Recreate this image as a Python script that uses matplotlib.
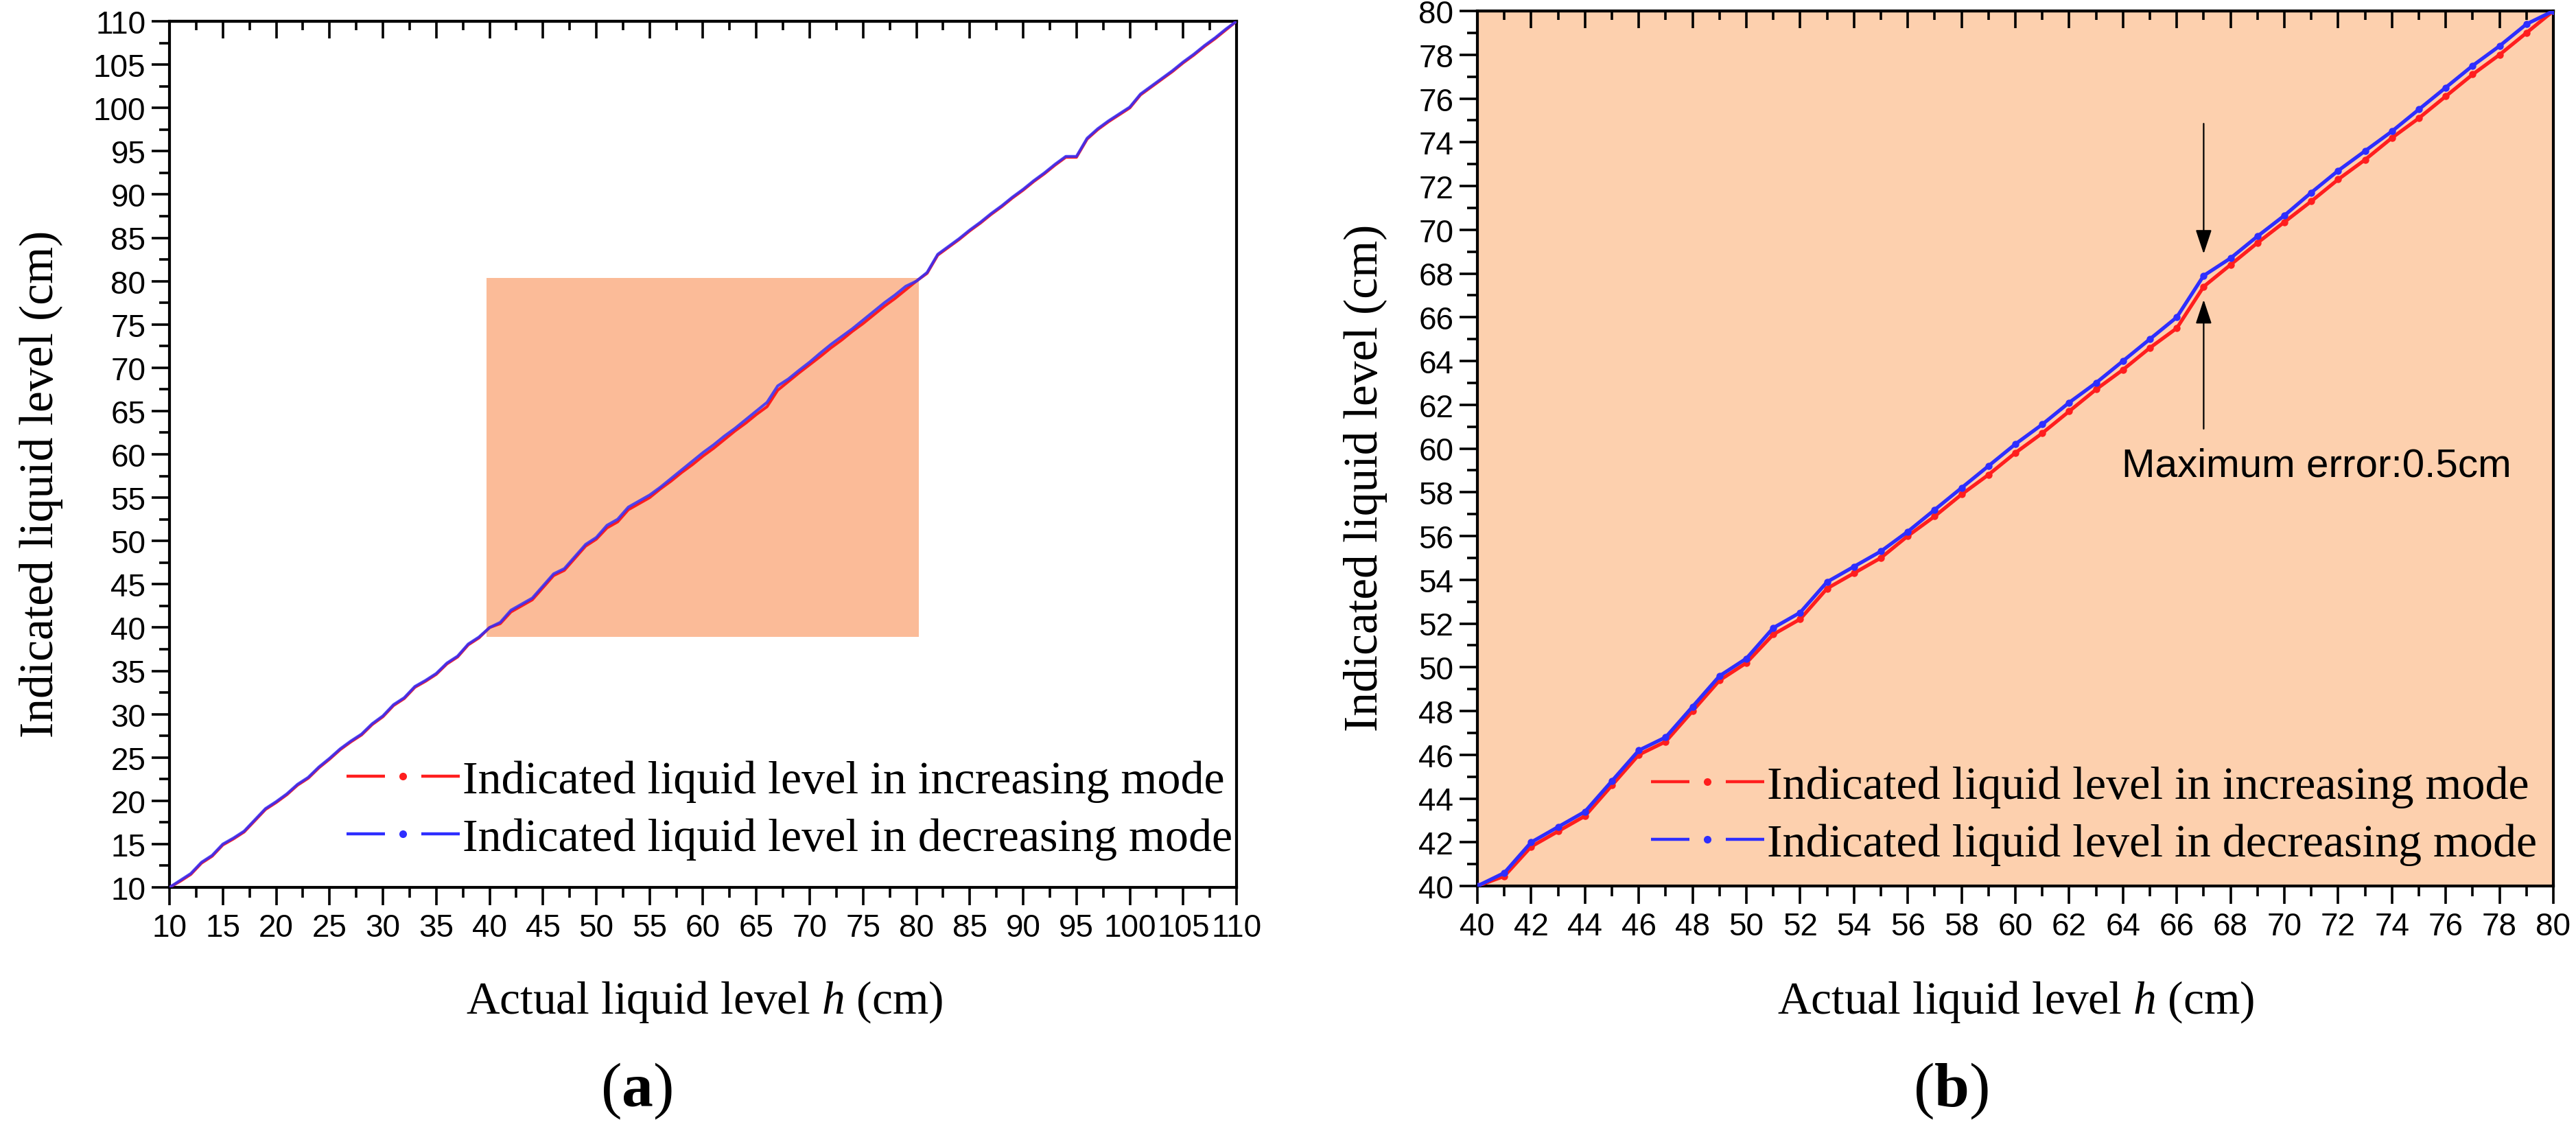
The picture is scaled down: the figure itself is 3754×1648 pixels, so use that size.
import matplotlib
matplotlib.use("Agg")
import matplotlib.pyplot as plt
from matplotlib.lines import Line2D
from matplotlib.legend_handler import HandlerBase
from matplotlib.patches import Rectangle
from matplotlib.ticker import MultipleLocator
from matplotlib.font_manager import FontProperties

# ---------------- data ----------------
# zoomed region (panel b): actual level 40..80 cm, one point per cm
x_zoom = list(range(40, 81))
inc_zoom = [40.0, 40.45, 41.8, 42.5, 43.2, 44.6, 46.0, 46.6, 48.0, 49.4,
            50.2, 51.5, 52.2, 53.6, 54.3, 55.0, 56.0, 56.9, 57.9, 58.8,
            59.8, 60.7, 61.7, 62.7, 63.6, 64.6, 65.5, 67.4, 68.4, 69.4,
            70.35, 71.3, 72.3, 73.2, 74.2, 75.1, 76.1, 77.1, 78.0, 79.0, 80.0]
dec_zoom = [40.0, 40.6, 42.0, 42.7, 43.4, 44.8, 46.2, 46.8, 48.2, 49.6,
            50.4, 51.8, 52.5, 53.9, 54.6, 55.3, 56.2, 57.2, 58.2, 59.2,
            60.2, 61.1, 62.1, 63.0, 64.0, 65.0, 66.0, 67.9, 68.7, 69.7,
            70.65, 71.7, 72.7, 73.6, 74.5, 75.5, 76.5, 77.5, 78.4, 79.4, 80.0]

# full range (panel a): 10..39 and 81..110 cm
x_low = list(range(10, 40))
inc_low = [10.0, 10.7, 11.5, 12.8, 13.6, 14.9, 15.6, 16.4, 17.7, 19.0,
           19.8, 20.7, 21.8, 22.6, 23.8, 24.8, 25.9, 26.8, 27.6, 28.8,
           29.7, 31.0, 31.8, 33.1, 33.8, 34.6, 35.8, 36.6, 38.0, 38.8]
dec_low = [10.0, 10.8, 11.6, 12.9, 13.7, 15.0, 15.7, 16.5, 17.8, 19.1,
           19.9, 20.8, 21.9, 22.7, 23.9, 24.9, 26.0, 26.9, 27.7, 28.9,
           29.8, 31.1, 31.9, 33.2, 33.9, 34.7, 35.9, 36.7, 38.1, 38.9]
x_high = list(range(81, 111))
inc_high = [80.9, 83.0, 83.9, 84.8, 85.8, 86.7, 87.7, 88.6, 89.6, 90.5,
            91.5, 92.4, 93.4, 94.3, 94.3, 96.4, 97.5, 98.4, 99.2, 100.0,
            101.5, 102.4, 103.3, 104.2, 105.2, 106.1, 107.1, 108.0, 109.0, 110.0]
dec_high = [81.0, 83.1, 84.0, 84.9, 85.9, 86.8, 87.8, 88.7, 89.7, 90.6,
            91.6, 92.5, 93.5, 94.4, 94.4, 96.5, 97.6, 98.5, 99.3, 100.1,
            101.6, 102.5, 103.4, 104.3, 105.3, 106.2, 107.2, 108.1, 109.1, 110.0]

x_full = x_low + x_zoom + x_high
inc_full = inc_low + inc_zoom + inc_high
dec_full = dec_low + dec_zoom + dec_high

zoom_box_x = [39.7, 80.2]
zoom_box_y = [38.9, 80.4]

labels = ["Indicated liquid level in increasing mode",
          "Indicated liquid level in decreasing mode"]
annot_text = "Maximum error:0.5cm"

# ---------------- style ----------------
plt.rcParams['font.family'] = ['Liberation Sans', 'DejaVu Sans']
plt.rcParams['mathtext.fontset'] = 'custom'
plt.rcParams['mathtext.rm'] = 'Liberation Serif'
plt.rcParams['mathtext.it'] = 'Liberation Serif:italic'
plt.rcParams['mathtext.bf'] = 'Liberation Serif:bold'

RED = '#FF1E1E'
BLUE = '#2E2EFF'
W, H = 3755, 1649

fig = plt.figure(figsize=(W / 100, H / 100), dpi=100)
fig.patch.set_facecolor('white')

axL = fig.add_axes([247 / W, 1 - 1294 / H, (1802 - 247) / W, (1294 - 32) / H])
axR = fig.add_axes([2153 / W, 1 - 1292 / H, (3721 - 2153) / W, (1292 - 17) / H])


class DashDotDash(HandlerBase):
    def create_artists(self, legend, orig_handle, xdescent, ydescent,
                       width, height, fontsize, trans):
        y = height / 2 - ydescent
        x0 = -xdescent
        c = orig_handle.get_color()
        lw = orig_handle.get_linewidth()
        seg = width * 0.34
        l1 = Line2D([x0, x0 + seg], [y, y], color=c, lw=lw, solid_capstyle='butt')
        l2 = Line2D([x0 + width - seg, x0 + width], [y, y], color=c, lw=lw,
                    solid_capstyle='butt')
        m = Line2D([x0 + width / 2], [y], ls='none', marker='o',
                   ms=orig_handle.get_markersize(), color=c, mec='none')
        for a in (l1, l2, m):
            a.set_transform(trans)
        return [l1, l2, m]


def style_axes(ax, xlim, ylim, xmaj, xmin, ymaj, ymin):
    ax.set_xlim(*xlim)
    ax.set_ylim(*ylim)
    ax.xaxis.set_major_locator(MultipleLocator(xmaj))
    ax.xaxis.set_minor_locator(MultipleLocator(xmin))
    ax.yaxis.set_major_locator(MultipleLocator(ymaj))
    ax.yaxis.set_minor_locator(MultipleLocator(ymin))
    ax.tick_params(which='major', direction='out', length=19, width=2.6,
                   labelsize=33, top=False, right=False)
    ax.tick_params(which='minor', direction='out', length=11, width=2.6,
                   top=False, right=False)
    ax.tick_params(axis='x', which='major', pad=8)
    ax.tick_params(axis='y', which='major', pad=6)
    for s in ax.spines.values():
        s.set_linewidth(3)
    sec = ax.secondary_xaxis('top')
    sec.xaxis.set_major_locator(MultipleLocator(xmaj))
    sec.xaxis.set_minor_locator(MultipleLocator(xmin))
    sec.tick_params(which='major', direction='in', length=18, width=2.6,
                    labeltop=False)
    sec.tick_params(which='minor', direction='in', length=9, width=2.6)
    sec.spines['top'].set_linewidth(3)


serif = 'Liberation Serif'

# ---------------- panel (a) ----------------
axL.add_patch(Rectangle((zoom_box_x[0], zoom_box_y[0]),
                        zoom_box_x[1] - zoom_box_x[0],
                        zoom_box_y[1] - zoom_box_y[0],
                        facecolor='#FBBB98', edgecolor='none', zorder=1))
axL.plot(x_full, inc_full, color=RED, lw=3, zorder=3)
axL.plot(x_full, dec_full, color=BLUE, lw=3, zorder=4, alpha=0.85)
style_axes(axL, (10, 110), (10, 110), 5, 2.5, 5, 2.5)

# ---------------- panel (b) ----------------
axR.set_facecolor('#FDD0AE')
axR.plot(x_zoom, inc_zoom, color=RED, lw=3.8, marker='o', ms=7.5, mec='none', zorder=3)
axR.plot(x_zoom, dec_zoom, color=BLUE, lw=3.8, marker='o', ms=7.5, mec='none', zorder=4)
style_axes(axR, (40, 80), (40, 80), 2, 1, 2, 1)

arrow = dict(arrowstyle='-|>,head_length=0.6,head_width=0.2', mutation_scale=36,
             lw=1.6, color='black', shrinkA=0, shrinkB=0)
axR.annotate('', xy=(67, 68.9), xytext=(67, 74.85), arrowprops=arrow, zorder=6)
axR.annotate('', xy=(67, 66.8), xytext=(67, 60.9), arrowprops=arrow, zorder=6)
axR.text(71.2, 59.2, annot_text, ha='center', va='center', fontsize=42, zorder=6)

# ---------------- labels ----------------
for ax, lx, ly, cx, legx, legy in ((axL, 60, 705, 1027, 505, 1181),
                                   (axR, 1990, 696, 2938, 2406, 1189)):
    fig.text(lx / W, 1 - ly / H, 'Indicated liquid level (cm)', rotation=90,
             ha='center', va='center', fontsize=50, fontfamily=serif)
    fig.text(cx / W, 1 - 1460 / H, 'Actual liquid level $h$ (cm)',
             ha='center', va='center', fontsize=48.5, fontfamily=serif)
    handles = [Line2D([], [], color=RED, lw=3.2, marker='o', ms=8),
               Line2D([], [], color=BLUE, lw=3.2, marker='o', ms=8)]
    ax.legend(handles, labels, loc='center left',
              bbox_to_anchor=(legx / W, 1 - legy / H),
              bbox_transform=fig.transFigure, frameon=False, borderpad=0,
              borderaxespad=0, handlelength=2.42, handletextpad=0.06,
              labelspacing=0.33, prop=FontProperties(family=serif, size=49),
              handler_map={Line2D: DashDotDash()})

fig.text(927 / W, 1 - 1590 / H, r'($\mathbf{a}$)', ha='center', va='center',
         fontsize=66, fontfamily=serif)
fig.text(2843 / W, 1 - 1590 / H, r'($\mathbf{b}$)', ha='center', va='center',
         fontsize=66, fontfamily=serif)

fig.savefig('out.png', dpi=100, facecolor='white')
